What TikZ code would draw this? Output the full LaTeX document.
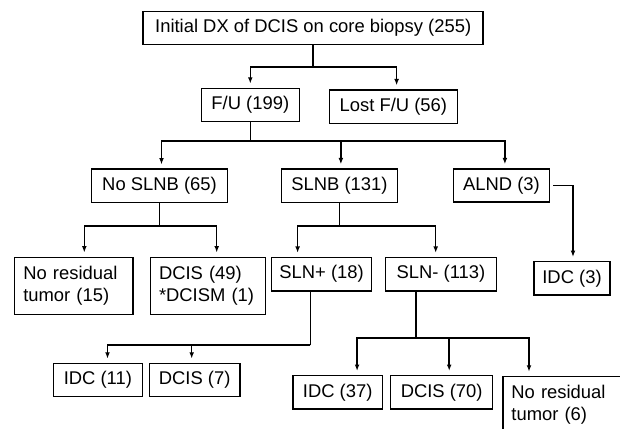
\documentclass[tikz,border=0pt]{standalone}
\usepackage{fontspec}
\setmainfont{Liberation Sans}
\usetikzlibrary{arrows.meta}

\begin{document}
\begin{tikzpicture}[x=0.5pt,y=-0.5pt,
        font=\fontsize{9.2}{11}\selectfont,
        box/.style={draw,line width=0.75pt,inner sep=0pt,minimum height=16.6pt},
        tallbox/.style={draw,line width=0.75pt,inner xsep=4.35pt,inner ysep=0pt,align=left,minimum height=28.5pt},
        arr/.style={line width=0.75pt,-{Latex[length=3.2pt,width=2.4pt]},shorten >=2pt},
        stem/.style={line width=0.75pt}]
    \useasboundingbox (0,0) rectangle (620,428);
    \clip (0,0) rectangle (620,428);
    % boxes
    \node[box,minimum width=170pt] (init) at (313.2,28) {Initial DX of DCIS on core biopsy (255)};
    \node[box,minimum width=49pt] (fu) at (250.3,105) {F/U (199)};
    \node[box,minimum width=64pt] (lost) at (393.4,106.7) {Lost F/U (56)};
    \node[box,minimum width=67.9pt] (noslnb) at (159.5,185.8) {No SLNB (65)};
    \node[box,minimum width=58pt] (slnb) at (339.5,185.7) {SLNB (131)};
    \node[box,minimum width=48pt] (alnd) at (501.5,185.6) {ALND (3)};
    \node[tallbox,text width=50.6pt] (nores) at (73.9,285.8) {No residual\\tumor (15)};
    \node[tallbox,text width=49pt] (dcis) at (208,285.8) {DCIS (49)\\{}*DCISM (1)};
    \node[box,minimum width=50pt] (slnpos) at (321.6,274.2) {SLN+ (18)};
    \node[box,minimum width=55.5pt] (slnneg) at (441,274.2) {SLN- (113)};
    \node[box,minimum width=38.2pt] (idcalnd) at (572,278.3) {IDC (3)};
    \node[box,minimum width=44.5pt] (idcpos) at (97.9,380) {IDC (11)};
    \node[box,minimum width=45.2pt] (dcispos) at (194.7,380) {DCIS (7)};
    \node[box,minimum width=44.7pt] (idcneg) at (337.7,392.3) {IDC (37)};
    \node[box,minimum width=51pt] (dcisneg) at (441.7,392.3) {DCIS (70)};
    \node[draw,line width=0.75pt,anchor=north west,inner xsep=4.35pt,inner ysep=4.2pt,
          text width=56pt,align=left] (noresneg) at (502,375.7) {No residual\\tumor (6)};
    % connectors
    \draw[stem] (init.south) -- ++(0,21.7) coordinate (b1);
    \draw[arr] (b1) -| (fu.north);
    \draw[arr] (b1) -| ([xshift=1.6pt]lost.north);
    \draw[stem] (fu.south) -- ++(0,18.4) coordinate (b2);
    \draw[arr] (b2) -| ([xshift=1pt]noslnb.north);
    \draw[arr] (b2) -| ([xshift=0.7pt]slnb.north);
    \draw[arr] (b2) -| ([xshift=1.7pt]alnd.north);
    \draw[stem] (noslnb.south) -- ++(0,22.7) coordinate (b3);
    \draw[arr] (b3) -| ([xshift=5.2pt]nores.north);
    \draw[arr] (b3) -| ([xshift=4.35pt]dcis.north);
    \draw[stem] (slnb.south) -- ++(0,22.7) coordinate (b4);
    \draw[arr] (b4) -| ([xshift=-12pt]slnpos.north);
    \draw[arr] (b4) -| ([xshift=-2.65pt]slnneg.north);
    \draw[arr,shorten <=1.5pt] (alnd.east) -| ([xshift=0.5pt]idcalnd.north);
    \draw[stem] ([xshift=-5.6pt]slnpos.south) -- ++(0,53.3) coordinate (b5);
    \draw[arr] (b5) -| ([xshift=4.8pt]idcpos.north);
    \draw[arr] (b5) -| ([xshift=-1.5pt]dcispos.north);
    \draw[stem] ([xshift=-12.5pt]slnneg.south) -- ++(0,46.6) coordinate (b6);
    \draw[arr] (b6) -| ([xshift=9.7pt]idcneg.north);
    \draw[arr] (b6) -| ([xshift=3.75pt]dcisneg.north);
    \draw[arr] (b6) -| ([xshift=13.5pt]noresneg.north west);
\end{tikzpicture}
\end{document}
